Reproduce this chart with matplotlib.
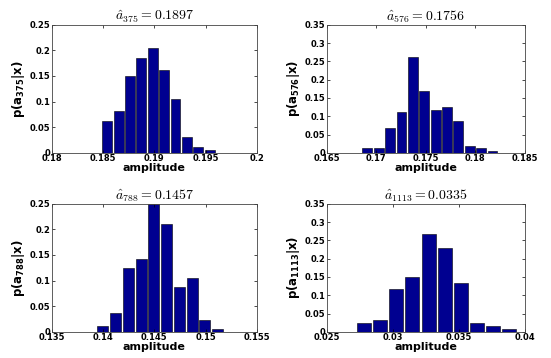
import matplotlib.pyplot as plt
import numpy as np

plt.rcParams['mathtext.fontset'] = 'cm'

# bar centres (first centre, spacing) and heights for each panel
idx = ['375', '576', '788', '1113']
est = ['0.1897', '0.1756', '0.1457', '0.0335']

start = [0.18541, 0.16911, 0.13998, 0.02784]
step = [0.00111, 0.00115, 0.001245, 0.00122]
heights = [
    [0.062, 0.081, 0.149, 0.186, 0.205, 0.162, 0.106, 0.031, 0.012, 0.006],
    [0.012, 0.012, 0.068, 0.111, 0.262, 0.168, 0.118, 0.124, 0.087, 0.018, 0.012, 0.006],
    [0.012, 0.037, 0.124, 0.143, 0.250, 0.211, 0.087, 0.106, 0.024, 0.006],
    [0.023, 0.032, 0.118, 0.149, 0.268, 0.229, 0.134, 0.023, 0.015, 0.007],
]

xlims = [(0.18, 0.2), (0.165, 0.185), (0.135, 0.155), (0.025, 0.04)]
xticks = [
    [0.18, 0.185, 0.19, 0.195, 0.2],
    [0.165, 0.17, 0.175, 0.18, 0.185],
    [0.135, 0.14, 0.145, 0.15, 0.155],
    [0.025, 0.03, 0.035, 0.04],
]
xticklabels = [
    ['0.18', '0.185', '0.19', '0.195', '0.2'],
    ['0.165', '0.17', '0.175', '0.18', '0.185'],
    ['0.135', '0.14', '0.145', '0.15', '0.155'],
    ['0.025', '0.03', '0.035', '0.04'],
]
ymax = [0.25, 0.35, 0.25, 0.35]

positions = [
    [0.094, 0.573, 0.372, 0.358],
    [0.593, 0.573, 0.359, 0.358],
    [0.094, 0.073, 0.372, 0.358],
    [0.593, 0.073, 0.359, 0.358],
]

fig = plt.figure(figsize=(5.51, 3.58), dpi=100)

for i in range(4):
    ax = fig.add_axes(positions[i])
    h = heights[i]
    x = start[i] + step[i] * np.arange(len(h))
    ax.bar(x, h, width=step[i] * 0.87, color='#000090', edgecolor='black', linewidth=0.4)

    ax.set_xlim(*xlims[i])
    ax.set_ylim(0, ymax[i])
    ax.set_xticks(xticks[i])
    ax.set_xticklabels(xticklabels[i])
    yt = np.arange(0, ymax[i] + 1e-9, 0.05)
    ax.set_yticks(yt)
    ax.set_yticklabels(['0'] + ['%g' % v for v in yt[1:]])
    ax.tick_params(direction='in', top=True, right=True, length=2.5, width=0.5,
                   labelsize=6, pad=1)
    for lab in ax.get_xticklabels() + ax.get_yticklabels():
        lab.set_fontweight('bold')
    for s in ax.spines.values():
        s.set_linewidth(0.6)
        s.set_color('#444444')

    ax.set_title(r'$\hat{a}_{%s} = %s$' % (idx[i], est[i]), fontsize=10, pad=3)
    ax.set_xlabel('amplitude', fontsize=8, fontweight='bold', labelpad=0)
    ax.set_ylabel(r'p(a$_{\mathbf{%s}}$|x)' % idx[i], fontsize=8.5, fontweight='bold',
                  labelpad=2, math_fontfamily='dejavusans')

fig.savefig('out.png', dpi=100)
